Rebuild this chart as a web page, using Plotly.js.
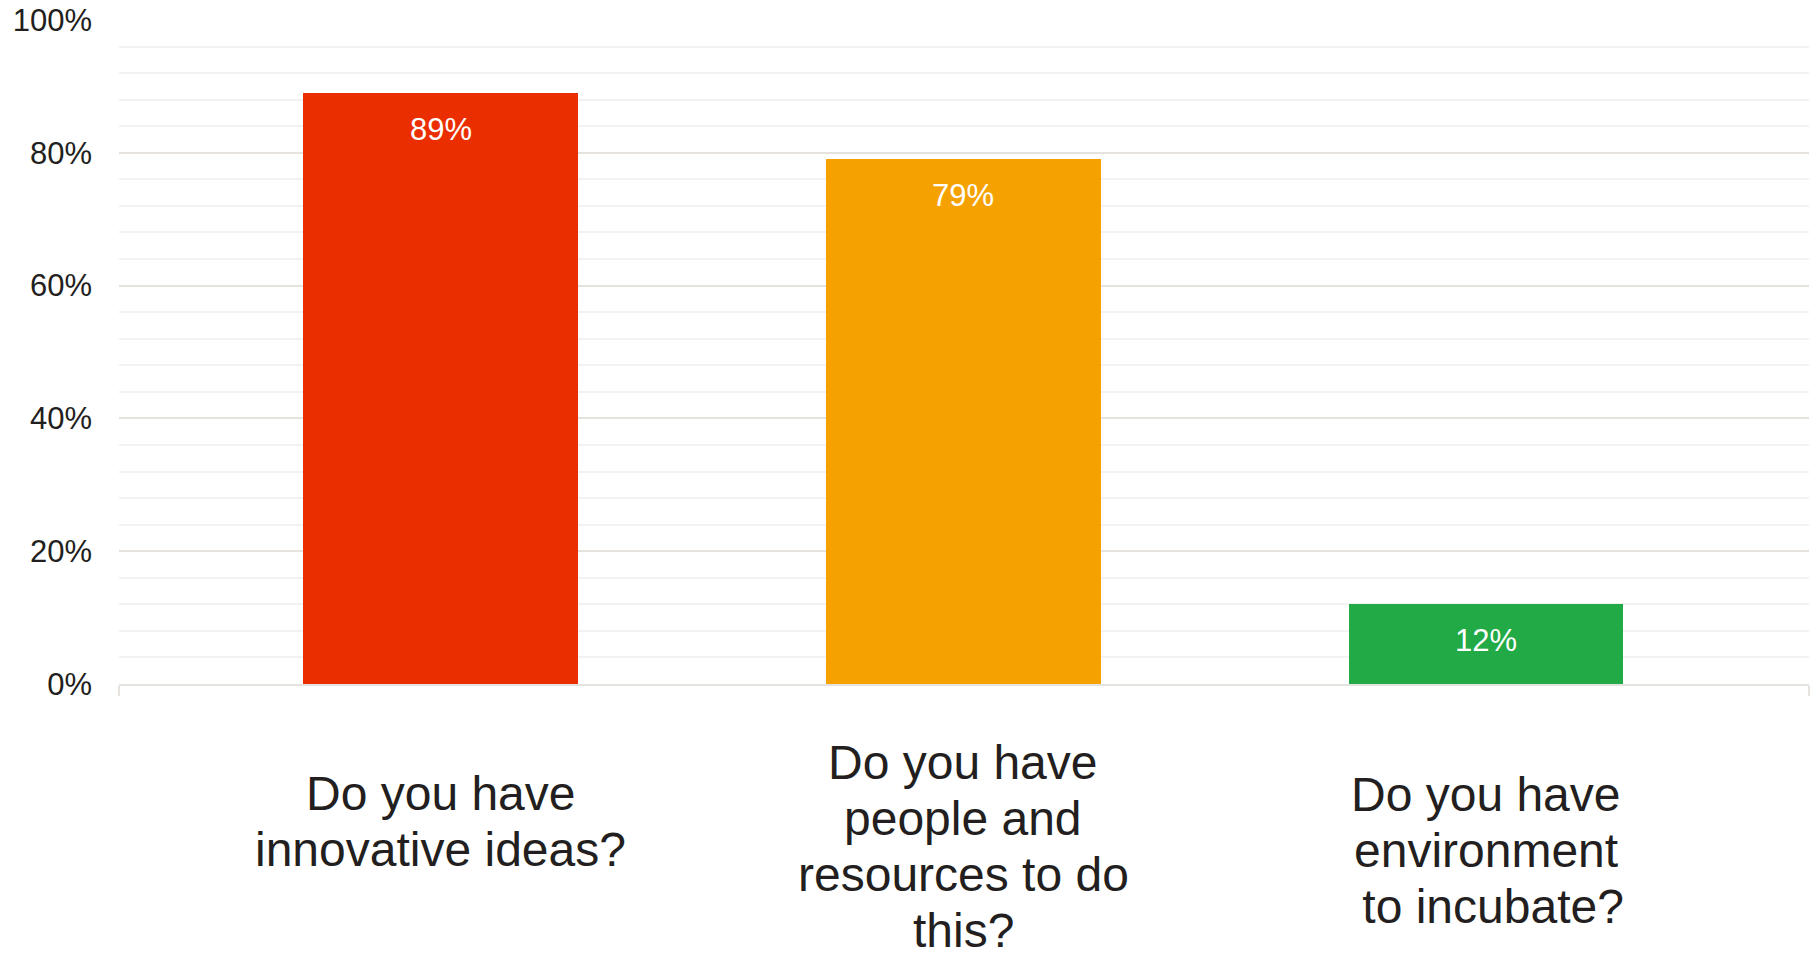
<!DOCTYPE html>
<html>
<head>
<meta charset="utf-8">
<script src="https://cdn.plot.ly/plotly-3.0.1.min.js"></script>
<style>
  html, body { margin: 0; padding: 0; background: #ffffff; }
  #chart { width: 1818px; height: 954px; }
</style>
</head>
<body>
<div id="chart"></div>
<script>
// ---- data ----
const categories = ["innovative", "people", "environment"];
const categoryLabels = [
  "Do you have<br>innovative ideas?",
  "Do you have<br>people and<br>resources to do<br>this?",
  "Do you have<br>environment<br> to incubate?"
];
const values = [89, 79, 12];
const valueLabels = ["89%", "79%", "12%"];
const barColors = ["#EA2E00", "#F5A200", "#21AA45"];

// ---- layout helpers (not data) ----
const firstLineShift = [-109, -78, -110];
const lineStep = 56;
const fontFamily = "'Liberation Sans', Arial, sans-serif";

const trace = {
  type: "bar",
  x: categories,
  y: values,
  marker: { color: barColors, line: { width: 0 } },
  width: 0.526,
  hoverinfo: "none",
  showlegend: false
};

const annotations = [];
categories.forEach((c, i) => {
  annotations.push({
    x: c, y: values[i], xref: "x", yref: "y",
    text: valueLabels[i], showarrow: false,
    yanchor: "middle", yshift: -36,
    font: { family: fontFamily, size: 31, color: "#ffffff" }
  });
  categoryLabels[i].split("<br>").forEach((line, k) => {
    annotations.push({
      x: c, y: 0, xref: "x", yref: "y",
      text: line.replace(/^ /, "&nbsp;"), showarrow: false,
      yanchor: "middle", yshift: firstLineShift[i] - k * lineStep,
      align: "center",
      font: { family: fontFamily, size: 48, color: "#231f20" }
    });
  });
});

const layout = {
  width: 1818, height: 954,
  margin: { l: 119, r: 9, t: 20, b: 270, pad: 0 },
  paper_bgcolor: "#ffffff",
  plot_bgcolor: "#ffffff",
  font: { family: fontFamily, color: "#231f20" },
  bargap: 0,
  xaxis: {
    type: "category",
    range: [-0.616, 2.618],
    showgrid: false,
    zeroline: false,
    showline: true,
    linecolor: "#e6e2de",
    linewidth: 2,
    tickmode: "array",
    tickvals: [-0.616, 2.618],
    ticktext: ["", ""],
    ticks: "outside",
    ticklen: 10,
    tickwidth: 2,
    tickcolor: "#e6e2de",
    showticklabels: true,
    fixedrange: true
  },
  yaxis: {
    range: [0, 100],
    dtick: 20,
    tick0: 0,
    ticksuffix: "%",
    showgrid: true,
    gridcolor: "#e6e3df",
    gridwidth: 2,
    zeroline: false,
    showline: false,
    ticks: "",
    ticklabelstandoff: 26,
    tickfont: { family: fontFamily, size: 31, color: "#231f20" },
    minor: { dtick: 4, tick0: 0, showgrid: true, gridcolor: "#f3f2f0", gridwidth: 2 },
    fixedrange: true
  },
  annotations: annotations
};

Plotly.newPlot("chart", [trace], layout, { displayModeBar: false, staticPlot: true });
</script>
</body>
</html>
